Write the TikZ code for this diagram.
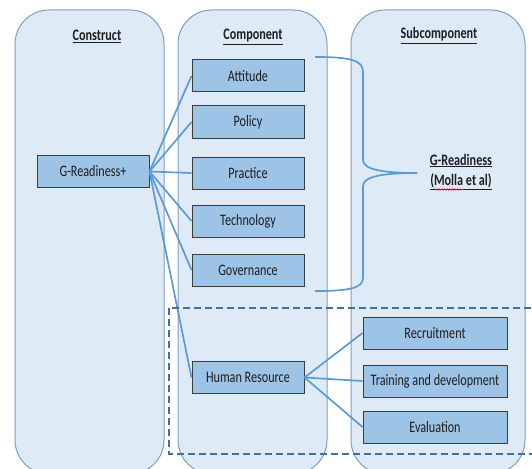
\documentclass[tikz,border=0pt]{standalone}
\usepackage{fontspec}
\setmainfont{Carlito}[FakeStretch=0.76]
\usetikzlibrary{decorations.pathmorphing}
\definecolor{colfill}{RGB}{222,235,247}
\definecolor{colline}{RGB}{125,158,198}
\definecolor{boxfill}{RGB}{157,195,230}
\definecolor{boxline}{RGB}{60,60,60}
\definecolor{linkblue}{RGB}{91,155,213}
\definecolor{dashblue}{RGB}{65,113,156}
\definecolor{txt}{RGB}{30,30,30}

\begin{document}
\begin{tikzpicture}[x=1pt,y=-1pt,
  column/.style={draw=colline, line width=1pt, fill=colfill, rounded corners=34pt},
  item/.style={draw=boxline, line width=1pt, fill=boxfill, minimum height=32pt,
    inner sep=0pt, font=\fontsize{16}{19}\selectfont, text=txt},
  compbox/.style={item, minimum width=112pt},
  subbox/.style={item, minimum width=144pt},
  head/.style={anchor=base, inner sep=0pt, font=\fontsize{16}{19}\selectfont\bfseries, text=txt},
  wire/.style={draw=linkblue, line width=1.7pt},
  hrzone/.style={draw=dashblue, line width=1.6pt, dash pattern=on 7pt off 4pt},
]
\useasboundingbox (0,0) rectangle (532,468);
\clip (0,0) rectangle (532,468);

% the three columns
\draw[column] (15,10) rectangle (164,474);
\draw[column] (178,10) rectangle (327,474);
\draw[column] (351,10) rectangle (525,474);

% column headings
\node[head] (hcons) at (97,41) {\underline{Construct}};
\node[head] (hcomp) at (253,40) {\underline{Component}};
\node[head] (hsub)  at (439,39) {\underline{Subcomponent}};

% construct
\node[item, minimum width=112pt] (gr) at (93,171.5) {G-Readiness+};

% components
\node[compbox] (att)  at (248,76)    {Attitude};
\node[compbox] (pol)  at (248,122)   {Policy};
\node[compbox] (pra)  at (248,173)   {Practice};
\node[compbox] (tec)  at (248,221)   {Technology};
\node[compbox] (gov)  at (248,270)   {Governance};
\node[compbox] (hr)   at (248,377.5) {Human Resource};

% subcomponents of human resource
\node[subbox] (rec) at (435,333) {Recruitment};
\node[subbox] (trn) at (435,381) {Training and development};
\node[subbox] (eva) at (435,427) {Evaluation};

% links from the construct to its components
\foreach \c in {att,pol,pra,tec,gov,hr}
  \draw[wire] (gr.east) -- (\c.west);

% links from human resource to its subcomponents
\foreach \s in {rec,trn,eva}
  \draw[wire] (hr.east) -- (\s.west);

% brace grouping the first five components
\coordinate (bt) at (315,57);
\coordinate (bb) at (315,291);
\coordinate (tip) at (417,173);
\draw[wire] (bt) .. controls (350,57) and (363,60) .. (363,72) -- (363,160)
  .. controls (363,170) and (385,173) .. (tip)
  .. controls (385,173) and (363,176) .. (363,186) -- (363,278)
  .. controls (363,288) and (350,291) .. (bb);

\node[head] (gread) at (461,165) {\underline{G-Readiness}};
\node[head] (molla) at (461,185) {\underline{(Molla et al)}};
\draw[red, line width=0.6pt, decorate,
  decoration={snake, amplitude=0.7pt, segment length=2.5pt}]
  (434,189.5) -- (463,189.5);

% dashed zone around the human resource branch
\draw[hrzone] (169,308) rectangle (545,454);
\end{tikzpicture}
\end{document}
